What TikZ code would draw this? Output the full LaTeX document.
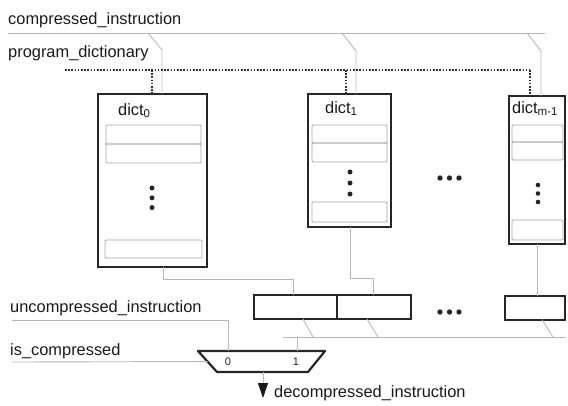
\documentclass[tikz,border=0pt]{standalone}
\usepackage{fontspec}
\setmainfont{Liberation Sans}
\usetikzlibrary{arrows.meta,positioning}

\begin{document}
\begin{tikzpicture}[x=1pt, y=-1pt,
   wire/.style={draw=black!28, line width=0.9pt},
   pdwire/.style={draw=black!80, line width=2pt, dash pattern=on 1.6pt off 1.6pt},
   dictbox/.style={draw=black!85, line width=2pt, inner sep=0pt, outer sep=0pt},
   entry/.style={draw=black!35, line width=0.8pt, rounded corners=1pt, inner sep=0pt, outer sep=0pt, minimum width=#1, minimum height=19pt},
   regbox/.style={draw=black!85, line width=2pt, inner sep=0pt, outer sep=0pt, minimum height=24pt},
   lbl/.style={font=\fontsize{16.4}{18}\selectfont, text=black!90, inner sep=0pt, anchor=base west},
   sel/.style={font=\fontsize{11}{12}\selectfont, text=black!85, inner sep=0pt}]
   \useasboundingbox (0,0) rectangle (568,405);

   \node[lbl] (ci) at (8,24) {compressed\_instruction};
   \node[lbl] (pd) at (8,57) {program\_dictionary};
   \node[lbl] (ui) at (10,312) {uncompressed\_instruction};
   \node[lbl] (ic) at (10,355) {is\_compressed};

   \node[dictbox, minimum width=109pt, minimum height=173pt] (d0) at (152.5,180.5) {};
   \node[dictbox, minimum width=83pt, minimum height=133pt] (d1) at (349.5,160.5) {};
   \node[dictbox, minimum width=56pt, minimum height=148pt] (d2) at (537,170) {};

   \node[lbl] (d0t) at (118,115) {dict\textsubscript{0}};
   \node[lbl] (d1t) at (325,113) {dict\textsubscript{1}};
   \node[lbl] (d2t) at (512,113) {dict\textsubscript{m-1}};

   \node[entry=95pt] (e00) at (153.5,134.5) {};
   \node[entry=95pt, below=0pt of e00] (e01) {};
   \node[entry=97pt, minimum height=18pt] (e02) at (153.5,249) {};
   \node[entry=75pt, minimum height=18pt] (e10) at (349.5,134) {};
   \node[entry=75pt, below=0pt of e10] (e11) {};
   \node[entry=75pt, minimum height=20pt] (e12) at (349.5,212) {};
   \node[entry=51pt, minimum height=17pt] (e20) at (537.5,133.5) {};
   \node[entry=51pt, minimum height=18pt, below=0pt of e20] (e21) {};
   \node[entry=51pt, minimum height=20pt] (e22) at (537.5,230) {};

   \foreach \k in {0,1,2} {
      \fill[black!85] (152,188+9.8*\k) circle (2.5pt);
      \fill[black!85] (350,172+11*\k) circle (2.5pt);
      \fill[black!85] (538,185+8.5*\k) circle (2.3pt);
      \fill[black!85] (440+9.5*\k,178) circle (2.7pt);
      \fill[black!85] (440+9.5*\k,312) circle (2.7pt);
   }

   \node[regbox, minimum width=83pt] (u0) at (295.5,307) {};
   \node[regbox, minimum width=74pt, right=0pt of u0] (u1) {};
   \node[regbox, minimum width=60pt] (u2) at (535,307.5) {};

   \coordinate (m1) at (198,351);
   \coordinate (m2) at (325,351);
   \coordinate (m3) at (308,372);
   \coordinate (m4) at (217,372);
   \coordinate (mi0) at (228,351);
   \coordinate (mi1) at (297,351);
   \coordinate (msel) at (207.5,361.5);
   \coordinate (mout) at (263,372);
   \draw[draw=black!85, line width=2.2pt, line join=round] (m1) -- (m2) -- (m3) -- (m4) -- cycle;
   \node[sel] (s0) at (228,362) {0};
   \node[sel] (s1) at (296,362) {1};

   \draw[wire] (8,33) -- (545,33);
   \draw[wire] (148,33) -- (162,50) -- (162,50 |- d0.north);
   \draw[wire] (342,33) -- (356,51) -- (356,51 |- d1.north);
   \draw[wire] (527,33) -- (541,51) -- (541,51 |- d2.north);

   \draw[pdwire] (65,70) -- (530,70);
   \draw[pdwire] (152,70) -- (152,70 |- d0.north);
   \draw[pdwire] (346,70) -- (346,70 |- d1.north);
   \draw[pdwire] (530,70) -- (530,70 |- d2.north);

   \draw[wire] (163,0 |- d0.south) -- (163,279) -- (293,279) -- (293,0 |- u0.north);
   \draw[wire] (350,0 |- d1.south) -- (350,278) -- (373,278) -- (373,0 |- u1.north);
   \draw[wire] (537,0 |- d2.south) -- (537,0 |- u2.north);

   \draw[wire] (303,0 |- u0.south) -- (313,337);
   \draw[wire] (367,0 |- u1.south) -- (378,337);
   \draw[wire] (542,0 |- u2.south) -- (553,337);
   \draw[wire] (283,337) -- (566,337);
   \draw[wire] (297,337) -- (mi1);

   \draw[wire] (12,320) -- (228,320) -- (mi0);
   \draw[wire] (12,362) -- (msel);
   \draw[wire, -{Triangle[length=15pt, width=10pt, black!90]}] (mout) -- (263,398);
   \node[lbl] (di) at (274,397) {decompressed\_instruction};
\end{tikzpicture}
\end{document}
